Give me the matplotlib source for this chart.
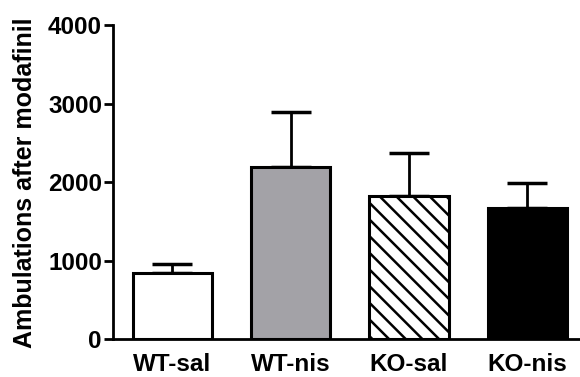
import matplotlib
matplotlib.use('Agg')
from matplotlib import pyplot as plt

groups = ['WT-sal', 'WT-nis', 'KO-sal', 'KO-nis']
means = [842, 2198, 1822, 1669]
sem = [122, 696, 555, 322]
colors = ['white', '#a3a2a7', 'white', 'black']
hatches = ['', '', '\\\\', '']

plt.rcParams['font.family'] = ['Liberation Sans', 'DejaVu Sans']
plt.rcParams['font.weight'] = 'bold'
plt.rcParams['hatch.linewidth'] = 1.8

fig = plt.figure(figsize=(5.8, 3.77), dpi=100)
ax = fig.add_axes([0.195, 0.0995, 0.81, 0.834])

x = range(len(groups))
bars = ax.bar(x, means, width=0.67, color=colors, edgecolor='black', linewidth=2.2, zorder=2)
for b, h in zip(bars, hatches):
    b.set_hatch(h)
ax.errorbar(x, means, yerr=[[0]*len(sem), sem], fmt='none', ecolor='black',
            elinewidth=2, capsize=14.5, capthick=2.5, zorder=1)

ax.set_xlim(-0.5, 3.47)
ax.set_ylim(0, 4000)
ax.set_yticks([0, 1000, 2000, 3000, 4000])
ax.set_xticks(list(x))
ax.set_xticklabels(groups, fontsize=17.5, fontweight='bold')
ax.tick_params(axis='x', length=0, pad=10)
ax.tick_params(axis='y', length=6.5, width=2, labelsize=17.5, pad=1.5)
for t in ax.get_yticklabels():
    t.set_fontweight('bold')
ax.set_ylabel('Ambulations after modafinil', fontsize=18, fontweight='bold', labelpad=8)

for s in ['top', 'right']:
    ax.spines[s].set_visible(False)
for s in ['left', 'bottom']:
    ax.spines[s].set_linewidth(2)

fig.savefig('out.png', dpi=100)
